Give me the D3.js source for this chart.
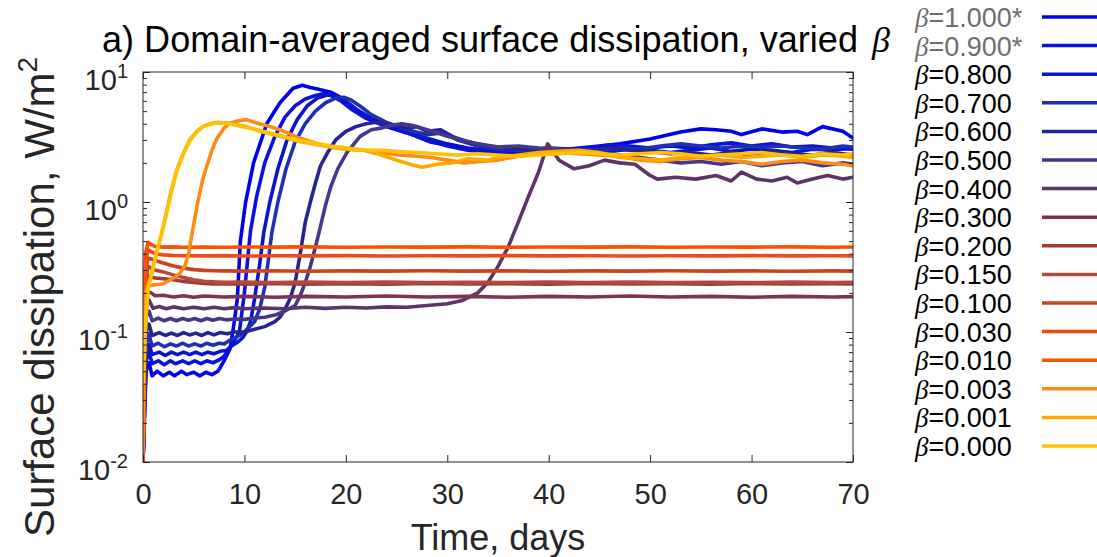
<!DOCTYPE html>
<html>
<head>
<meta charset="utf-8">
<script src="https://cdn.jsdelivr.net/npm/d3@7"></script>
<style>
body { margin: 0; background: #fff; }
svg { display: block; font-family: "Liberation Sans", Arial, Helvetica, sans-serif; }
</style>
</head>
<body>
<svg width="1097" height="557"></svg>
<script>
// beta values shown in the legend (first two were greyed out with a star)
var betaLabels = ["1.000*", "0.900*", "0.800", "0.700", "0.600", "0.500", "0.400", "0.300",
                  "0.200", "0.150", "0.100", "0.030", "0.010", "0.003", "0.001", "0.000"];

// time (days), surface dissipation (W/m^2)
var s1000 = [[0,0.01],[0.3,0.05],[0.6,0.058],[0.9,0.046],[1.4,0.05],[2,0.046],[2.6,0.049],[3.1,0.046],[3.8,0.05],[4.3,0.047],[5,0.049],[5.6,0.046],[6.2,0.049],[6.8,0.047],[7.4,0.05],[8,0.06],[8.6,0.075],[9,0.12],[9.3,0.18],[9.6,0.5],[10.1,0.98],[10.9,2.0],[12.2,4.0],[13.5,5.8],[14.8,7.5],[15.7,7.9],[16.5,7.6],[17.2,7.4],[18.5,7.0],[19.3,6.5],[20.1,5.8],[21.7,4.6],[23.7,3.9],[26.1,3.4],[28.3,2.9],[30,2.75],[31.6,2.6],[33,2.5],[35,2.45],[37,2.5],[40,2.6],[42,2.55],[45,2.7],[47,2.8],[50,3.05],[53,3.45],[55,3.65],[56.5,3.6],[58,3.5],[59,3.3],[61,3.65],[63,3.45],[64.5,3.5],[65.5,3.3],[67,3.8],[69,3.5],[70,3.1]];
var s0900 = [[0,0.01],[0.3,0.06],[0.6,0.07],[0.9,0.057],[1.5,0.06],[2.1,0.056],[2.7,0.06],[3.2,0.057],[3.9,0.06],[4.5,0.057],[5.1,0.06],[5.7,0.057],[6.3,0.06],[6.9,0.058],[7.5,0.061],[8,0.065],[8.5,0.075],[9,0.085],[9.5,0.1],[10,0.2],[10.3,0.35],[10.6,0.6],[11.2,1.1],[12,2.0],[13,3.2],[14,4.5],[15,5.5],[16,6.2],[17,6.6],[17.8,6.8],[18.5,6.6],[19.5,6.0],[20.5,5.2],[22,4.4],[24,3.8],[26,3.4],[28,3.0],[30,2.7],[32,2.5],[34,2.4],[36,2.35],[38,2.4],[40,2.45],[42,2.5],[44,2.6],[46,2.75],[48,2.7],[50,2.6],[52,2.7],[54,2.6],[56,2.75],[58,2.85],[60,2.7],[62,2.8],[64,2.65],[66,2.7],[68,2.6],[70,2.55]];
var s0800 = [[0,0.01],[0.3,0.07],[0.6,0.08],[0.9,0.067],[1.6,0.07],[2.2,0.066],[2.8,0.07],[3.4,0.067],[4,0.07],[4.6,0.067],[5.2,0.07],[5.8,0.067],[6.4,0.07],[7,0.068],[7.6,0.071],[8.2,0.072],[8.8,0.079],[9.3,0.083],[9.8,0.09],[10.2,0.1],[10.6,0.12],[11,0.18],[11.5,0.33],[11.9,0.58],[12.5,1.0],[13.3,1.8],[14.2,3.0],[15.2,4.3],[16.2,5.5],[17.2,6.3],[18.3,6.7],[19.2,6.5],[20,6.0],[21,5.2],[22.5,4.4],[24,3.9],[26,3.5],[28,3.1],[30,2.8],[32,2.6],[34,2.5],[36,2.45],[38,2.4],[40,2.35],[42,2.4],[44,2.5],[46,2.45],[48,2.55],[50,2.5],[52,2.4],[54,2.5],[56,2.6],[58,2.45],[60,2.55],[62,2.5],[64,2.4],[66,2.55],[68,2.5],[70,2.6]];
var s0700 = [[0,0.01],[0.3,0.08],[0.6,0.095],[0.9,0.078],[1.5,0.082],[2.1,0.077],[2.7,0.081],[3.3,0.078],[3.9,0.082],[4.5,0.078],[5.1,0.081],[5.7,0.078],[6.3,0.082],[6.9,0.079],[7.5,0.082],[8,0.081],[8.5,0.086],[9,0.09],[9.5,0.094],[10,0.1],[10.5,0.11],[11,0.12],[11.5,0.15],[12,0.22],[12.4,0.38],[12.7,0.58],[13.3,1.0],[14.1,1.8],[15,2.9],[16,4.0],[17,5.0],[18,5.8],[19,6.3],[19.8,6.4],[20.5,6.1],[21.5,5.4],[22.5,4.7],[24,4.1],[26,3.6],[28,3.3],[29.5,3.4],[31,3.0],[33,2.7],[35,2.55],[37,2.5],[39,2.45],[41,2.5],[43,2.55],[45,2.5],[47,2.6],[49,2.55],[51,2.7],[53,2.8],[55,2.7],[57,2.6],[59,2.7],[61,2.65],[63,2.7],[65,2.6],[67,2.55],[69,2.7],[70,2.65]];
var s0600 = [[0,0.01],[0.3,0.1],[0.6,0.115],[0.9,0.094],[1.6,0.099],[2.2,0.094],[2.8,0.098],[3.4,0.094],[4,0.099],[4.6,0.095],[5.2,0.098],[5.8,0.094],[6.4,0.099],[7,0.095],[7.6,0.099],[8.3,0.097],[9,0.1],[10,0.1],[11,0.105],[12,0.11],[13,0.12],[13.5,0.13],[14,0.15],[14.5,0.18],[15,0.24],[15.5,0.4],[16,0.7],[16.5,1.0],[17,1.4],[17.5,1.9],[18.2,2.4],[19,3.0],[20,3.5],[21,3.8],[22,4.0],[23,4.1],[24,4.0],[25,3.9],[26,3.7],[27,3.8],[28,3.5],[29.3,3.6],[30.5,3.2],[32,2.9],[34,2.7],[36,2.6],[38,2.5],[40,2.45],[42,2.5],[44,2.45],[46,2.6],[48,2.5],[50,2.45],[52,2.35],[54,2.4],[56,2.3],[58,2.4],[60,2.3],[62,2.45],[64,2.35],[66,2.3],[68,2.4],[70,2.3]];
var s0500 = [[0,0.01],[0.3,0.13],[0.6,0.145],[0.9,0.122],[1.5,0.128],[2.1,0.122],[2.7,0.127],[3.3,0.122],[3.9,0.127],[4.5,0.123],[5.1,0.127],[5.7,0.122],[6.3,0.127],[6.9,0.123],[7.5,0.127],[8.2,0.124],[9,0.126],[10,0.125],[11,0.128],[12,0.13],[13,0.135],[14,0.145],[15,0.16],[15.5,0.19],[16,0.24],[16.5,0.32],[17,0.45],[17.5,0.65],[18,0.95],[18.5,1.3],[19.2,1.8],[20.1,2.4],[21.4,3.2],[22.5,3.6],[23.5,3.7],[24.5,3.9],[25.5,4.0],[26.5,3.9],[27.5,3.7],[28.5,3.5],[30,3.2],[31.5,3.0],[33,2.8],[35,2.65],[37,2.7],[39,2.6],[41,2.55],[43,2.5],[45,2.4],[47,2.3],[49,2.2],[51,2.1],[53,2.0],[55,2.05],[57,1.95],[59,2.05],[61,1.9],[63,2.0],[65,2.05],[67,1.9],[69,2.0],[70,1.95]];
var s0400 = [[0,0.01],[0.3,0.16],[0.6,0.175],[1,0.152],[1.6,0.157],[2.3,0.151],[3,0.156],[4,0.151],[5,0.155],[6,0.151],[7,0.155],[8,0.151],[9,0.154],[10,0.151],[12,0.153],[14,0.151],[16,0.155],[18,0.152],[20,0.155],[22,0.153],[24,0.156],[26,0.155],[28,0.16],[30,0.165],[31.5,0.175],[33,0.2],[34,0.24],[35,0.32],[36,0.45],[37,0.7],[38,1.1],[39,1.7],[39.9,2.8],[40.5,2.4],[41,2.1],[42.5,1.8],[44,1.9],[45.5,2.1],[47,2.0],[48.5,1.95],[50,1.6],[50.7,1.5],[52.5,1.55],[54.5,1.5],[56.5,1.6],[58,1.45],[59,1.7],[60.5,1.5],[62,1.45],[63.5,1.55],[64.5,1.4],[66,1.5],[67.5,1.6],[69,1.5],[70,1.55]];
var s0300 = [[0,0.01],[0.25,0.17],[0.5,0.205],[0.8,0.2],[1.2,0.19],[2,0.192],[3,0.186],[4,0.19],[5,0.185],[6,0.189],[8,0.186],[10,0.188],[13,0.185],[16,0.188],[20,0.186],[24,0.189],[28,0.186],[32,0.188],[36,0.185],[40,0.188],[44,0.186],[48,0.189],[52,0.186],[56,0.188],[60,0.185],[64,0.188],[68,0.186],[70,0.187]];
var s0200 = [[0,0.01],[0.25,0.2],[0.5,0.27],[0.8,0.265],[1.2,0.26],[2,0.257],[3,0.252],[4,0.245],[5,0.24],[6,0.236],[7,0.234],[8,0.235],[10,0.233],[13,0.236],[16,0.233],[20,0.235],[24,0.233],[28,0.236],[32,0.234],[36,0.235],[40,0.233],[44,0.236],[48,0.234],[52,0.235],[56,0.233],[60,0.236],[64,0.234],[68,0.235],[70,0.234]];
var s0150 = [[0,0.01],[0.25,0.24],[0.5,0.32],[0.8,0.31],[1.2,0.3],[2,0.29],[3,0.275],[4,0.262],[5,0.252],[6,0.246],[7,0.243],[8,0.241],[10,0.242],[13,0.24],[16,0.242],[20,0.24],[24,0.242],[28,0.24],[32,0.241],[36,0.24],[40,0.242],[44,0.24],[48,0.242],[52,0.24],[56,0.241],[60,0.24],[64,0.242],[68,0.24],[70,0.241]];
var s0100 = [[0,0.01],[0.25,0.3],[0.5,0.37],[0.8,0.365],[1.2,0.355],[2,0.34],[3,0.322],[4,0.31],[5,0.302],[6,0.298],[7,0.296],[8,0.295],[10,0.294],[13,0.296],[16,0.293],[20,0.295],[24,0.294],[28,0.296],[32,0.294],[36,0.295],[40,0.293],[44,0.295],[48,0.294],[52,0.296],[56,0.294],[60,0.295],[64,0.293],[68,0.295],[70,0.294]];
var s0030 = [[0,0.01],[0.25,0.35],[0.5,0.43],[0.8,0.415],[1.2,0.4],[2,0.392],[3,0.388],[4,0.386],[6,0.385],[8,0.387],[10,0.384],[13,0.386],[16,0.385],[20,0.387],[24,0.384],[28,0.386],[32,0.385],[36,0.387],[40,0.385],[44,0.386],[48,0.384],[52,0.386],[56,0.385],[60,0.387],[64,0.385],[68,0.386],[70,0.385]];
var s0010 = [[0,0.01],[0.25,0.4],[0.5,0.49],[0.8,0.47],[1.2,0.455],[2,0.45],[3,0.452],[4,0.449],[6,0.451],[8,0.449],[10,0.451],[13,0.45],[16,0.452],[20,0.449],[24,0.451],[28,0.45],[32,0.452],[36,0.449],[40,0.451],[44,0.45],[48,0.452],[52,0.449],[56,0.451],[60,0.45],[64,0.452],[68,0.449],[70,0.451]];
var s0003 = [[0,0.012],[0.2,0.2],[0.5,0.225],[1,0.23],[2,0.235],[3,0.26],[3.6,0.28],[4.1,0.32],[4.5,0.4],[4.8,0.55],[5.4,1.0],[5.9,1.5],[6.3,1.9],[6.8,2.5],[7.3,3.1],[8,3.7],[8.5,4.0],[9.3,4.2],[10.2,4.3],[11.2,4.05],[12.3,3.85],[13.5,3.6],[15.2,3.15],[17,2.85],[18.5,2.65],[20,2.55],[21.7,2.5],[23.5,2.4],[25.2,2.3],[27,2.25],[28.4,2.2],[30,2.1],[31.6,2.0],[33.3,2.05],[34.9,2.1],[37,2.25],[39,2.35],[41,2.4],[43,2.35],[45,2.3],[47,2.25],[49,2.1],[51,2.05],[53,2.15],[55,2.2],[57,2.1],[59,2.05],[61,1.95],[63,2.05],[65,2.1],[67,2.0],[69,1.95],[70,1.9]];
var s0001 = [[0,0.04],[0.3,0.13],[0.5,0.22],[1,0.32],[1.5,0.45],[2,0.65],[2.7,1.15],[3.3,1.75],[4,2.4],[4.6,3.0],[5.3,3.5],[5.9,3.8],[6.6,4.0],[7.3,4.1],[8.5,4.05],[10.2,3.8],[11.8,3.45],[13.5,3.2],[15.2,2.95],[16.8,2.8],[18.5,2.65],[20.2,2.55],[21.8,2.5],[23.5,2.3],[25,2.1],[26.3,1.95],[27.5,1.85],[29,1.95],[30.5,2.0],[32,2.15],[34,2.1],[35,2.2],[37,2.3],[39,2.4],[41,2.45],[43,2.5],[45,2.4],[47,2.2],[49,2.15],[51,2.1],[53,2.2],[55,2.25],[57,2.3],[59,2.2],[61,2.25],[63,2.3],[65,2.2],[67,2.3],[69,2.25],[70,2.2]];
var s0000 = [[0,0.04],[0.3,0.14],[0.5,0.22],[1,0.31],[1.5,0.46],[2,0.63],[2.7,1.1],[3.3,1.7],[4,2.35],[4.6,2.95],[5.3,3.45],[5.9,3.8],[6.6,3.95],[7.3,4.05],[8.5,4.0],[10.2,3.75],[11.8,3.5],[13.5,3.25],[15.2,3.0],[16.8,2.85],[18.5,2.7],[20.2,2.6],[21.8,2.5],[23.5,2.5],[25,2.45],[27,2.4],[29,2.35],[31,2.3],[33,2.35],[35,2.3],[37,2.25],[39,2.3],[41,2.35],[43,2.4],[45,2.35],[47,2.3],[49,2.35],[51,2.4],[53,2.35],[55,2.25],[57,2.3],[59,2.35],[61,2.4],[63,2.3],[65,2.25],[67,2.35],[69,2.3],[70,2.35]];

var seriesList = [s1000, s0900, s0800, s0700, s0600, s0500, s0400, s0300,
                  s0200, s0150, s0100, s0030, s0010, s0003, s0001, s0000];

var xTicks = [0, 10, 20, 30, 40, 50, 60, 70];
var yDecades = [0.01, 0.1, 1, 10];
var yExponents = ["-2", "-1", "0", "1"];

// blue -> purple -> red -> orange -> yellow, like the original figure
var palette = ["#0000f0", "#0a12dc", "#0a14c8", "#2030b4", "#262490", "#45388a", "#5c3468", "#7c3450",
               "#a03c34", "#b4483a", "#c8441e", "#f04a14", "#ff5000", "#ff8a14", "#ffa800", "#ffc200"];

var svg = d3.select("svg");
var axisColor = "#262626";

var x = d3.scaleLinear().domain([0, 70]).range([143, 853]);
var y = d3.scaleLog().domain([0.01, 10]).range([462, 72]);

svg.append("clipPath").attr("id", "plotclip")
    .append("rect")
    .attr("x", x(0)).attr("y", y(10))
    .attr("width", x(70) - x(0)).attr("height", y(0.01) - y(10));

// lines
var line = d3.line()
    .x(d => x(d[0]))
    .y(d => y(Math.max(d[1], 0.008)));

var lines = svg.append("g").attr("clip-path", "url(#plotclip)");
lines.selectAll("path")
    .data(seriesList)
    .enter().append("path")
    .attr("d", line)
    .attr("fill", "none")
    .attr("stroke", (d, i) => palette[i])
    .attr("stroke-width", 3.6)
    .attr("stroke-linejoin", "round")
    .attr("stroke-linecap", "round");

// axes (ticks inside, mirrored on all four sides)
var minorVals = [];
[0.01, 0.1, 1].forEach(function (dec) {
    for (var k = 2; k <= 9; k++) minorVals.push(k * dec);
});

function styleAxis(g) {
    g.select(".domain").remove();
    g.selectAll("line").attr("stroke", axisColor);
}

svg.append("g")
    .attr("transform", "translate(0," + y(0.01) + ")")
    .call(d3.axisBottom(x).tickValues(xTicks).tickSize(-7).tickPadding(21))
    .call(styleAxis)
    .selectAll("text")
    .attr("fill", axisColor)
    .style("font-size", "29px")
    .style("font-family", "Liberation Sans, Arial, sans-serif");

svg.append("g")
    .attr("transform", "translate(0," + y(10) + ")")
    .call(d3.axisTop(x).tickValues(xTicks).tickSize(-7).tickFormat(""))
    .call(styleAxis);

[[d3.axisLeft, x(0)], [d3.axisRight, x(70)]].forEach(function (a) {
    svg.append("g")
        .attr("transform", "translate(" + a[1] + ",0)")
        .call(a[0](y).tickValues(yDecades).tickSize(-7).tickFormat(""))
        .call(styleAxis);
    svg.append("g")
        .attr("transform", "translate(" + a[1] + ",0)")
        .call(a[0](y).tickValues(minorVals).tickSize(-4).tickFormat(""))
        .call(styleAxis);
});

// y tick labels with superscript exponents
var yLab = svg.append("g").attr("fill", axisColor);
yDecades.forEach(function (v, i) {
    var t = yLab.append("text")
        .attr("x", 128)
        .attr("y", y(v) + 18)
        .attr("text-anchor", "end")
        .style("font-size", "29px")
        .text("10");
    t.append("tspan")
        .attr("dy", -12)
        .style("font-size", "20px")
        .text(yExponents[i]);
});

// frame
svg.append("rect")
    .attr("x", x(0)).attr("y", y(10))
    .attr("width", x(70) - x(0)).attr("height", y(0.01) - y(10))
    .attr("fill", "none")
    .attr("stroke", axisColor)
    .attr("stroke-width", 1);

// title
svg.append("text")
    .attr("x", 102).attr("y", 52)
    .style("font-size", "36px")
    .attr("fill", "#000")
    .attr("textLength", 756)
    .attr("lengthAdjust", "spacingAndGlyphs")
    .text("a) Domain-averaged surface dissipation, varied");
svg.append("text")
    .attr("x", 872).attr("y", 52)
    .style("font-size", "36px")
    .style("font-family", "Liberation Serif, DejaVu Serif, serif")
    .style("font-style", "italic")
    .attr("fill", "#000")
    .text("\u03B2");

// axis labels
svg.append("text")
    .attr("x", (x(0) + x(70)) / 2).attr("y", 550)
    .attr("text-anchor", "middle")
    .attr("fill", axisColor)
    .style("font-size", "36px")
    .text("Time, days");

var yl = svg.append("text")
    .attr("transform", "translate(54,297) rotate(-90)")
    .attr("text-anchor", "middle")
    .attr("fill", axisColor)
    .style("font-size", "42px")
    .text("Surface dissipation, W/m");
yl.append("tspan").attr("dy", -17).style("font-size", "28px").text("2");

// legend
var legend = svg.append("g");
var rowH = 28.6;
betaLabels.forEach(function (lab, i) {
    var ly = 17 + i * rowH;
    var col = i < 2 ? "#6e6e6e" : "#000";
    var t = legend.append("text")
        .attr("x", 915).attr("y", ly + 10)
        .attr("fill", col)
        .style("font-size", "27px");
    t.append("tspan")
        .style("font-family", "Liberation Serif, DejaVu Serif, serif")
        .style("font-style", "italic")
        .text("\u03B2");
    t.append("tspan").text("=" + lab);
    legend.append("line")
        .attr("x1", 1042).attr("x2", 1097)
        .attr("y1", ly).attr("y2", ly)
        .attr("stroke", palette[i])
        .attr("stroke-width", 3.5);
});
</script>
</body>
</html>
